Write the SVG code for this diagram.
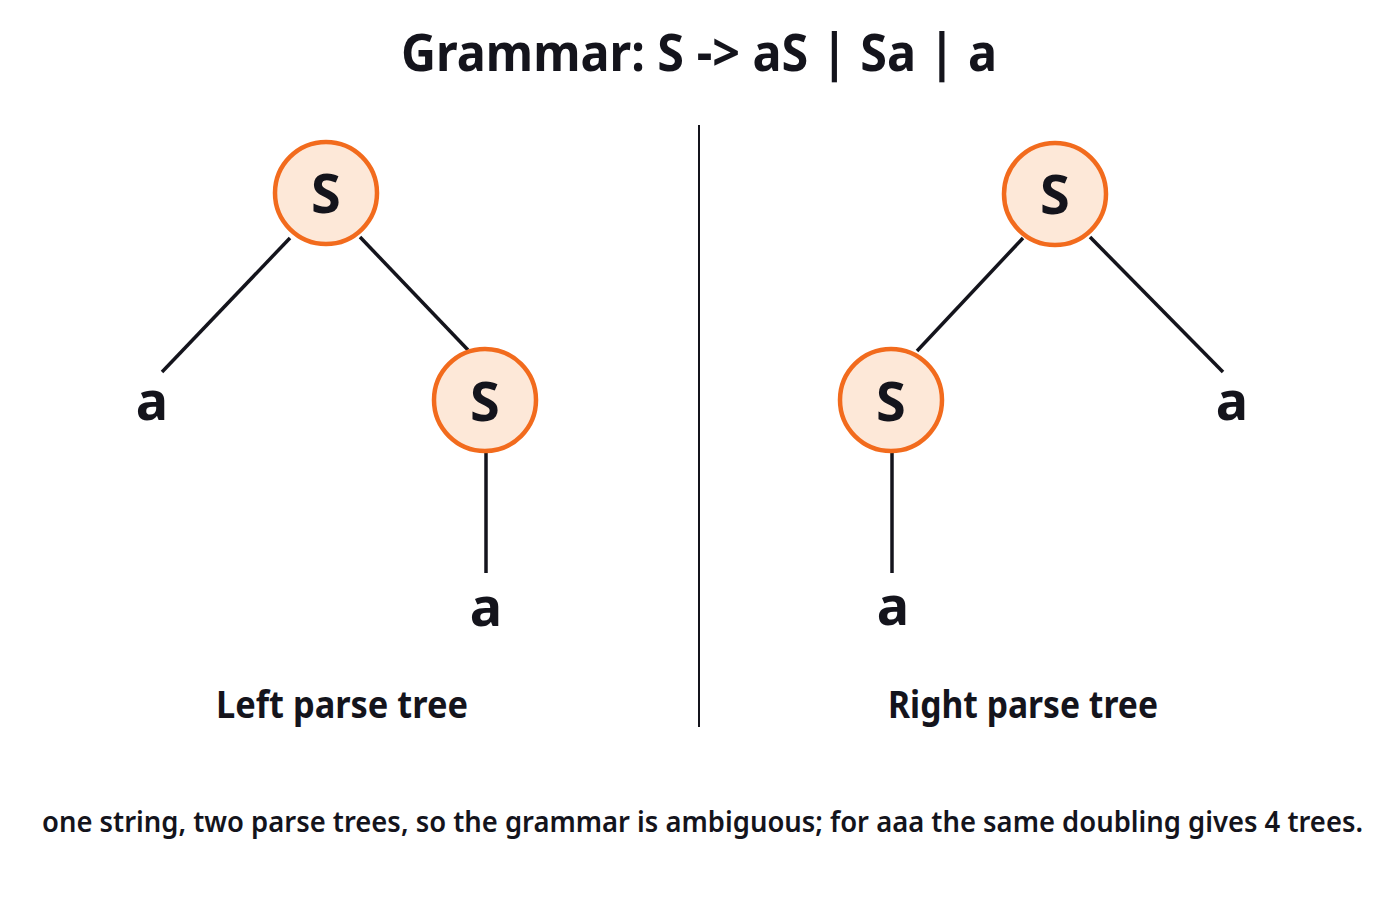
<svg xmlns="http://www.w3.org/2000/svg" width="1400" height="900" viewBox="0 0 1400 900">
<style>
.t{font-family:"Noto Sans","Open Sans","DejaVu Sans",sans-serif;fill:#14141c;font-weight:700}
.node circle{fill:#fde8d8;stroke:#f26b1d;stroke-width:4.5}
.node text{font-size:54px;text-anchor:middle}
.leaf{font-size:54px;text-anchor:middle}
.edges line{stroke:#14141c;stroke-width:3.5;stroke-linecap:butt}
</style>
<rect width="1400" height="900" fill="#ffffff"/>
<text class="t" x="699" y="71" font-size="52" text-anchor="middle" textLength="596" lengthAdjust="spacingAndGlyphs">Grammar: S -&gt; aS | Sa | a</text>
<line x1="699" y1="125" x2="699" y2="727" stroke="#14141c" stroke-width="2"/>
<g id="connectors" class="edges">
<line x1="290" y1="238" x2="162" y2="372"/>
<line x1="360" y1="237" x2="468" y2="350"/>
<line x1="486" y1="452" x2="486" y2="573"/>
<line x1="1023" y1="238" x2="917" y2="351"/>
<line x1="1090" y1="237" x2="1223" y2="372"/>
<line x1="892" y1="452" x2="892" y2="573"/>
</g>
<g id="left-root" class="node"><circle cx="326" cy="193" r="51"/><text class="t" x="326" y="213">S</text></g>
<g id="left-child" class="node"><circle cx="485" cy="400" r="51"/><text class="t" x="485" y="421">S</text></g>
<g id="left-leaf-1"><text class="t leaf" x="152" y="420">a</text></g>
<g id="left-leaf-2"><text class="t leaf" x="486" y="626">a</text></g>
<g id="right-root" class="node"><circle cx="1055" cy="194" r="51"/><text class="t" x="1055" y="214">S</text></g>
<g id="right-child" class="node"><circle cx="891" cy="400" r="51"/><text class="t" x="891" y="421">S</text></g>
<g id="right-leaf-1"><text class="t leaf" x="1232" y="420">a</text></g>
<g id="right-leaf-2"><text class="t leaf" x="893" y="625">a</text></g>
<text class="t" x="342" y="718" font-size="37" text-anchor="middle" textLength="252" lengthAdjust="spacingAndGlyphs">Left parse tree</text>
<text class="t" x="1023" y="718" font-size="37" text-anchor="middle" textLength="270" lengthAdjust="spacingAndGlyphs">Right parse tree</text>
<text class="t" x="42" y="832" font-size="28" font-weight="600" style="font-weight:600" textLength="1321" lengthAdjust="spacingAndGlyphs">one string, two parse trees, so the grammar is ambiguous; for aaa the same doubling gives 4 trees.</text>
</svg>
